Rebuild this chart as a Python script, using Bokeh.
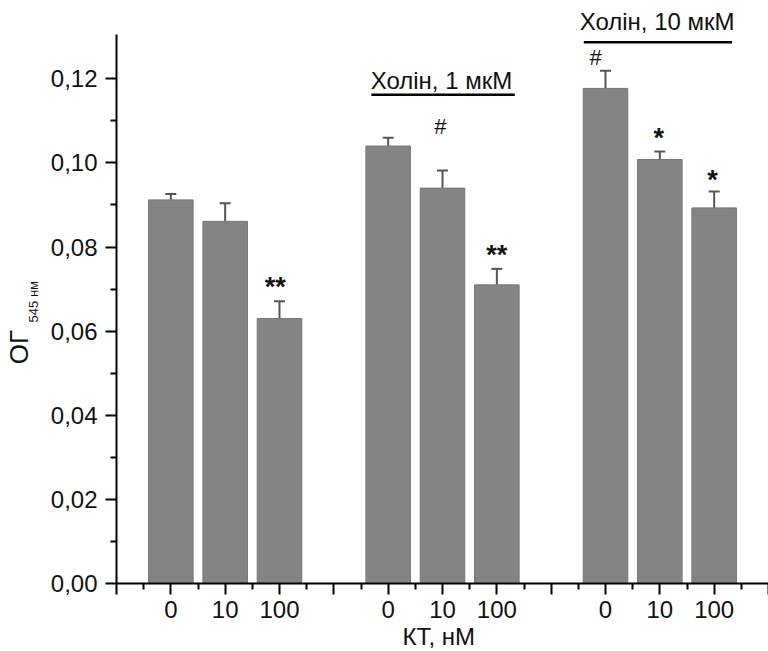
import math
from bokeh.plotting import figure
from bokeh.models import (ColumnDataSource, FixedTicker, Range1d, Label, Whisker, TeeHead)
from bokeh.embed import file_html
from bokeh.resources import INLINE

# ---- data ----
groups = ["контроль", "Холін, 1 мкМ", "Холін, 10 мкМ"]
doses = ["0", "10", "100"]
values = [0.0912, 0.0861, 0.0630, 0.1040, 0.0940, 0.0710, 0.1177, 0.1008, 0.0893]
errors = [0.0014, 0.0043, 0.0041, 0.0020, 0.0042, 0.0038, 0.0042, 0.0019, 0.0039]
marks = ["", "", "**", "", "#", "**", "#", "*", "*"]
y_tick_vals = [0.00, 0.02, 0.04, 0.06, 0.08, 0.10, 0.12]
y_tick_labels = ["0,00", "0,02", "0,04", "0,06", "0,08", "0,10", "0,12"]

FONT = "Liberation Sans"
BAR = "#848484"
TXT = "#111111"

# bar positions: groups separated by one empty slot
pos = [g * 4 + d + 1 for g in range(len(groups)) for d in range(len(doses))]
upper = [v + e for v, e in zip(values, errors)]

# frame covers the whole canvas; axes are pinned at x=0 and y=0
p = figure(width=768, height=651, output_backend="svg", toolbar_location=None,
           x_range=Range1d(-2.135, 12), y_range=Range1d(-0.01616, 0.1386),
           min_border_left=0, min_border_right=0, min_border_top=0, min_border_bottom=0)
p.outline_line_color = None
p.xgrid.visible = False
p.ygrid.visible = False
p.background_fill_color = "white"
p.border_fill_color = "white"

src = ColumnDataSource(dict(x=pos, top=values, up=upper))
p.vbar(x="x", top="top", bottom=0, width=0.82, source=src,
       fill_color=BAR, line_color="#767676", line_width=1)

wh = Whisker(base="x", lower="top", upper="up", source=src, dimension="height",
             line_color="#555555", line_width=2,
             upper_head=TeeHead(size=11, line_color="#555555", line_width=2),
             lower_head=None)
p.add_layout(wh)

# axes
xa = p.xaxis[0]
xa.fixed_location = 0
xa.ticker = FixedTicker(ticks=list(range(13)), minor_ticks=[i + 0.5 for i in range(12)])
overrides = {i: "" for i in range(13)}
for x, d in zip(pos, doses * len(groups)):
    overrides[x] = d
xa.major_label_overrides = overrides
xa.bounds = (0, 12)
ya = p.yaxis[0]
ya.fixed_location = 0
ya.ticker = FixedTicker(ticks=y_tick_vals, minor_ticks=[0.01, 0.03, 0.05, 0.07, 0.09, 0.11])
ya.major_label_overrides = {v: l for v, l in zip(y_tick_vals, y_tick_labels)}
ya.bounds = (0, 0.1305)
for ax in (xa, ya):
    ax.axis_line_color = "black"
    ax.axis_line_width = 2
    ax.major_tick_line_color = "black"
    ax.major_tick_line_width = 2
    ax.minor_tick_line_color = "black"
    ax.minor_tick_line_width = 2
    ax.major_tick_out = 11
    ax.major_tick_in = 0
    ax.minor_tick_out = 6
    ax.minor_tick_in = 0
    ax.major_label_text_font = FONT
    ax.major_label_text_font_size = "24px"
    ax.major_label_text_color = TXT
xa.major_label_standoff = 6
ya.major_label_standoff = 8

# significance marks (centre positions)
mark_y = [0, 0, 0.0706, 0, 0.1086, 0.0781, 0.1250, 0.1060, 0.0960]
mark_dx = [0, 0, -0.08, 0, -0.04, 0, -0.18, -0.02, -0.03]
for x, m, my, dx in zip(pos, marks, mark_y, mark_dx):
    if not m:
        continue
    star = "*" in m
    p.add_layout(Label(x=x + dx, y=my, text=m, text_align="center", text_baseline="middle",
                       text_font=FONT, text_font_size="27px" if star else "22px",
                       text_font_style="bold" if star else "normal", text_color=TXT))

# group annotations (choline)
ann = [(groups[1], 5.98, 0.1197, 4.69, 7.33, 0.1162),
       (groups[2], 9.95, 0.1336, 8.60, 11.33, 0.1287)]
for t, tx, ty, x0, x1, ly in ann:
    p.add_layout(Label(x=tx, y=ty, text=t, text_align="center", text_baseline="middle",
                       text_font=FONT, text_font_size="24px", text_color=TXT))
    p.segment(x0=[x0], x1=[x1], y0=[ly], y1=[ly], line_color="black", line_width=2.5)

# axis titles
p.add_layout(Label(x=5.93, y=-0.0127, text="КТ, нМ", text_align="center",
                   text_baseline="middle", text_font=FONT, text_font_size="24px",
                   text_color=TXT))
p.add_layout(Label(x=-1.795, y=0.0562, text="ОГ", angle=math.pi / 2,
                   text_align="center", text_baseline="middle", text_font=FONT,
                   text_font_size="26px", text_color=TXT))
p.add_layout(Label(x=-1.53, y=0.0670, text="545 нм", angle=math.pi / 2,
                   text_align="center", text_baseline="middle", text_font=FONT,
                   text_font_size="13px", text_color=TXT))

open("out.html", "w").write(file_html(p, INLINE))
